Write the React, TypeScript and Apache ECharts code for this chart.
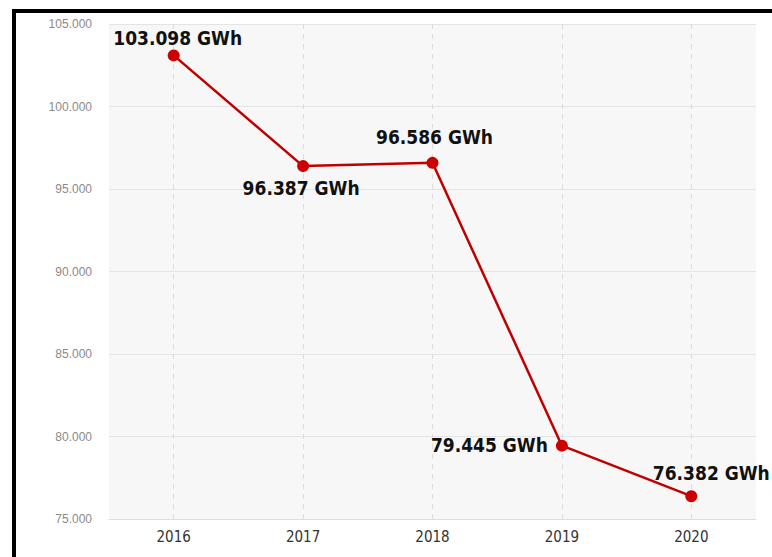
import React, { useEffect, useRef } from "react";
import * as echarts from "echarts";

const years = ["2016", "2017", "2018", "2019", "2020"];
const values = [103098, 96387, 96586, 79445, 76382];
const labelPlacement: { position: string; offset: [number, number] }[] = [
  { position: "top", offset: [4, 4] },
  { position: "bottom", offset: [-2, 0] },
  { position: "top", offset: [2, -4] },
  { position: "left", offset: [-2, -1] },
  { position: "top", offset: [20, -2] },
];

const fmt = (v: number) => {
  const s = Math.round(v).toString();
  return s.replace(/\B(?=(\d{3})+(?!\d))/g, ".");
};

export default function App() {
  const ref = useRef<HTMLDivElement>(null);
  useEffect(() => {
    if (!ref.current) return;
    const chart = echarts.init(ref.current, undefined, { renderer: "svg" });
    const narrow = "'DejaVu Sans Condensed', 'Liberation Sans Narrow', sans-serif";
    chart.setOption({
      animation: false,
      backgroundColor: "#ffffff",
      graphic: [
        { type: "rect", left: 12, top: 9, shape: { width: 760, height: 4 }, style: { fill: "#000" } },
        { type: "rect", left: 12, top: 9, shape: { width: 4, height: 548 }, style: { fill: "#000" } },
      ],
      grid: {
        left: 109,
        right: 16,
        top: 24,
        bottom: 38,
        show: true,
        backgroundColor: "#f7f7f7",
        borderWidth: 0,
      },
      xAxis: {
        type: "category",
        data: years,
        boundaryGap: true,
        axisLine: { show: true, lineStyle: { color: "#dddddd" } },
        axisTick: { show: false, alignWithLabel: true },
        axisLabel: {
          color: "#333333",
          fontFamily: narrow,
          fontSize: 15,
          margin: 10,
        },
        splitLine: {
          show: true,
          interval: 0,
          alignWithLabel: true,
          lineStyle: { color: "#dcdcdc", type: [5, 5] },
        },
      },
      yAxis: {
        type: "value",
        min: 75000,
        max: 105000,
        interval: 5000,
        axisLine: { show: false },
        axisTick: { show: false },
        axisLabel: {
          color: "#8a8a8a",
          fontFamily: "'Liberation Sans', Arial, sans-serif",
          fontSize: 12,
          margin: 17,
          formatter: (v: number) => fmt(v),
        },
        splitLine: { show: true, lineStyle: { color: "#e4e4e4" } },
      },
      series: [
        {
          type: "line",
          data: values.map((v, i) => ({
            value: v,
            label: {
              show: true,
              position: labelPlacement[i].position,
              offset: labelPlacement[i].offset,
            },
          })),
          symbol: "circle",
          symbolSize: 12,
          itemStyle: { color: "#cc0000" },
          lineStyle: { color: "#c00000", width: 2.5 },
          label: {
            show: true,
            color: "#111111",
            fontFamily: narrow,
            fontWeight: "bold",
            fontSize: 19,
            distance: 6,
            formatter: (p: any) => fmt(p.value) + " GWh",
          },
        },
      ],
    });
    return () => chart.dispose();
  }, []);
  return (
    <div
      ref={ref}
      style={{ position: "fixed", left: 0, top: 0, width: 772, height: 557 }}
    />
  );
}
